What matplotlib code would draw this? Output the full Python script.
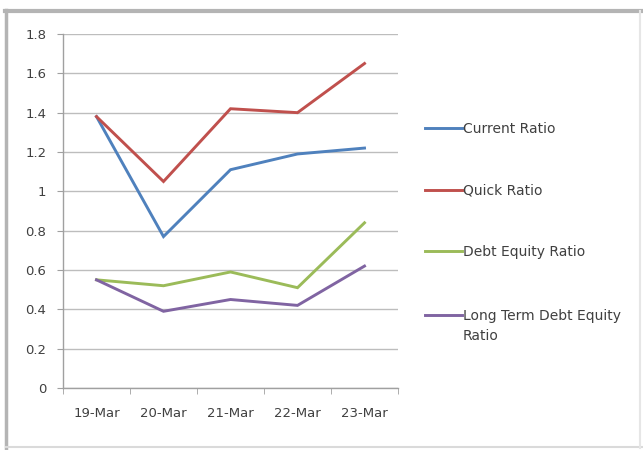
import numpy as np
import matplotlib
matplotlib.use("Agg")
import matplotlib.pyplot as plt
from matplotlib.lines import Line2D

plt.rcParams['font.family'] = ['Liberation Sans Narrow', 'DejaVu Sans']

# ratio data
dates = ['19-Mar', '20-Mar', '21-Mar', '22-Mar', '23-Mar']
current_ratio = [1.38, 0.77, 1.11, 1.19, 1.22]
quick_ratio = [1.38, 1.05, 1.42, 1.40, 1.65]
debt_equity = [0.55, 0.52, 0.59, 0.51, 0.84]
lt_debt_equity = [0.55, 0.39, 0.45, 0.42, 0.62]

labels = ['Current Ratio', 'Quick Ratio', 'Debt Equity Ratio',
          'Long Term Debt Equity\nRatio']
colors = ['#4F81BD', '#C0504D', '#9BBB59', '#8064A2']
series = [current_ratio, quick_ratio, debt_equity, lt_debt_equity]

W, H = 643, 450
fig = plt.figure(figsize=(W/100, H/100), dpi=100)

# outer chart frame: darker top/left, lighter bottom/right
def frame_line(xs, ys, c, lw):
    fig.add_artist(Line2D([v/W for v in xs], [1-v/H for v in ys],
                          transform=fig.transFigure, color=c, linewidth=lw))

frame_line([5, 642], [11, 11], '#B4B4B4', 3)
frame_line([6, 6], [10, 448], '#B4B4B4', 2.5)
frame_line([6, 642], [447, 447], '#DADADA', 1.5)
frame_line([640, 640], [11, 448], '#E6E6E6', 1.5)

# plot area
left, right, top, bottom = 63, 398, 34, 388
ax = fig.add_axes([left/W, 1-bottom/H, (right-left)/W, (bottom-top)/H])

x = np.arange(len(dates))
for vals, c in zip(series, colors):
    ax.plot(x, vals, color=c, linewidth=2.1, solid_joinstyle='miter')

ax.set_xlim(-0.5, len(dates)-0.5)
ax.set_ylim(0, 1.8)
ax.set_yticks(np.arange(0, 1.81, 0.2))
ax.set_yticklabels(['0', '0.2', '0.4', '0.6', '0.8', '1', '1.2', '1.4', '1.6', '1.8'])
ax.yaxis.grid(True, color='#BDBDBD', linewidth=1)
ax.set_axisbelow(True)

ax.set_xticks(x)
ax.set_xticklabels(dates)
ax.set_xticks(np.arange(-0.5, len(dates), 1), minor=True)
ax.tick_params(axis='x', which='major', length=0, pad=14, labelsize=9.5, colors='#404040')
ax.tick_params(axis='x', which='minor', length=4, color='#A0A0A0', direction='out')
ax.tick_params(axis='y', length=4, color='#A0A0A0', pad=8, labelsize=9.5, colors='#404040')

for s in ['top', 'right']:
    ax.spines[s].set_visible(False)
for s in ['left', 'bottom']:
    ax.spines[s].set_color('#A0A0A0')
    ax.spines[s].set_linewidth(1)

# legend on the right
leg_y = [128, 190, 251, 315]
for lab, c, yy in zip(labels, colors, leg_y):
    fig.add_artist(Line2D([425/W, 462/W], [1-yy/H, 1-yy/H], transform=fig.transFigure,
                          color=c, linewidth=2.1))
    fig.text(463/W, 1-(yy-6)/H, lab, fontsize=10, color='#404040',
             va='top', ha='left', linespacing=1.5)

fig.savefig('out.png', dpi=100)
